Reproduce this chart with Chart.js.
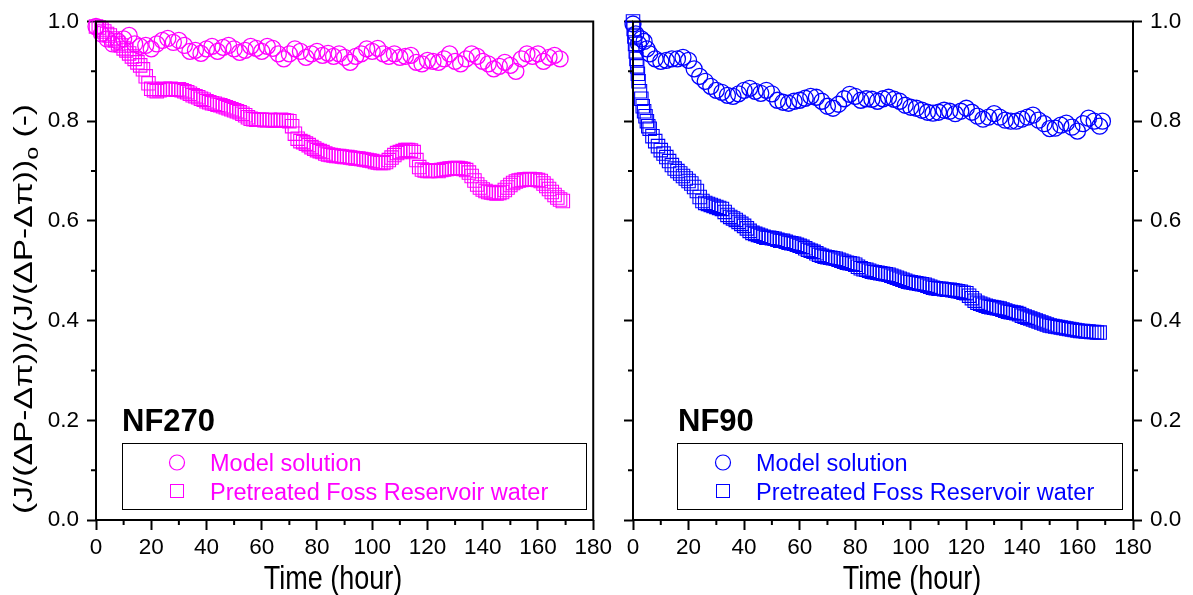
<!DOCTYPE html>
<html><head><meta charset="utf-8">
<script src="https://cdn.jsdelivr.net/npm/chart.js@4.4.1/dist/chart.umd.min.js"></script>
<style>
html,body{margin:0;padding:0;background:#fff;width:1193px;height:595px;overflow:hidden}
canvas{position:absolute;top:0}
#c1{left:0}
#c2{left:616px}
</style></head><body>
<canvas id="c1" width="616" height="595"></canvas>
<canvas id="c2" width="577" height="595"></canvas>
<script>
// ---------- tick labels ----------
const xTickValues = [0,20,40,60,80,100,120,140,160,180];
const xMinorTicks = [10,30,50,70,90,110,130,150,170];
const yTickValues = [0.0,0.2,0.4,0.6,0.8,1.0];
const yMinorTicks = [0.1,0.3,0.5,0.7,0.9];

const xTitle = 'Time (hour)';
const yTitleMain = '(J/(ΔP-Δπ))/(J/(ΔP-Δπ))';
const yTitleSub = 'o';
const yTitleTail = ' (-)';
const seriesNames = ['Model solution','Pretreated Foss Reservoir water'];
const panelNames = ['NF270','NF90'];

// ---------- NF270 : Model solution (circles) ----------
const tModelNF270 = [0,2,4,6,8,10,12,14,16,18,20,22,24,26,28,30,32,34,36,38,40,42,44,46,48,50,52,54,56,58,60,62,64,66,68,70,72,74,76,78,80,82,84,86,88,90,92,94,96,98,100,102,104,106,108,110,112,114,116,118,120,122,124,126,128,130,132,134,136,138,140,142,144,146,148,150,152,154,156,158,160,162,164,166,168];
const vModelNF270 = [0.990,0.975,0.965,0.955,0.960,0.965,0.972,0.955,0.950,0.952,
0.945,0.955,0.962,0.966,0.958,0.962,0.952,0.940,0.942,0.936,
0.945,0.950,0.940,0.948,0.952,0.945,0.938,0.942,0.950,0.946,
0.940,0.950,0.946,0.935,0.925,0.935,0.945,0.940,0.928,0.935,
0.940,0.932,0.936,0.930,0.935,0.928,0.918,0.930,0.935,0.945,
0.940,0.946,0.935,0.930,0.935,0.928,0.930,0.932,0.918,0.915,
0.922,0.920,0.918,0.925,0.935,0.920,0.915,0.925,0.935,0.930,
0.920,0.915,0.905,0.910,0.918,0.912,0.900,0.925,0.935,0.930,
0.935,0.920,0.928,0.932,0.925];

// ---------- NF270 : Pretreated Foss Reservoir water (squares) ----------
const tFossNF270 = [0,1,2,3,4,5,6,7,8,9,10,11,12,13,14,15,16,17,18,19,20,21,22,23,24,25,26,27,28,29,30,31,32,33,34,35,36,37,38,39,40,41,42,43,44,45,46,47,48,49,50,51,52,53,54,55,56,57,58,59,60,61,62,63,64,65,66,67,68,69,70,71,72,73,74,75,76,77,78,79,80,81,82,83,84,85,86,87,88,89,90,91,92,93,94,95,96,97,98,99,100,101,102,103,104,105,106,107,108,109,110,111,112,113,114,115,116,117,118,119,120,121,122,123,124,125,126,127,128,129,130,131,132,133,134,135,136,137,138,139,140,141,142,143,144,145,146,147,148,149,150,151,152,153,154,155,156,157,158,159,160,161,162,163,164,165,166,167,168,169];
const vFossNF270 = [0.990,0.988,0.984,0.980,0.975,0.972,0.966,0.962,0.956,0.952,
0.946,0.942,0.936,0.930,0.925,0.918,0.912,0.904,0.890,0.876,
0.865,0.862,0.860,0.862,0.864,0.865,0.864,0.865,0.864,0.863,
0.864,0.862,0.860,0.858,0.855,0.852,0.850,0.848,0.845,0.843,
0.840,0.838,0.836,0.835,0.833,0.832,0.830,0.828,0.826,0.824,
0.822,0.820,0.818,0.815,0.812,0.808,0.805,0.804,0.803,0.803,
0.803,0.802,0.802,0.803,0.802,0.801,0.802,0.803,0.802,0.801,
0.800,0.790,0.775,0.765,0.760,0.758,0.755,0.752,0.748,0.745,
0.742,0.740,0.738,0.735,0.733,0.732,0.731,0.730,0.730,0.729,
0.728,0.728,0.727,0.726,0.725,0.725,0.724,0.723,0.722,0.721,
0.720,0.718,0.717,0.716,0.716,0.718,0.722,0.727,0.732,0.736,
0.738,0.740,0.742,0.742,0.741,0.738,0.722,0.708,0.703,0.701,
0.700,0.700,0.701,0.701,0.700,0.702,0.703,0.704,0.705,0.705,
0.706,0.706,0.705,0.704,0.702,0.697,0.690,0.681,0.673,0.667,
0.663,0.660,0.658,0.657,0.656,0.655,0.656,0.658,0.662,0.667,
0.672,0.676,0.679,0.681,0.682,0.683,0.683,0.684,0.683,0.683,
0.682,0.680,0.675,0.670,0.664,0.658,0.652,0.647,0.643,0.640];

// ---------- NF90 : Model solution (circles) ----------
const tModelNF90 = [0,1,2,3,4,5,6,8,10,12,14,16,18,20,22,24,26,28,30,32,34,36,38,40,42,44,46,48,50,52,54,56,58,60,62,64,66,68,70,72,74,76,78,80,82,84,86,88,90,92,94,96,98,100,102,104,106,108,110,112,114,116,118,120,122,124,126,128,130,132,134,136,138,140,142,144,146,148,150,152,154,156,158,160,162,164,166,168,169];
const vModelNF90 = [0.995,0.975,0.955,0.965,0.960,0.945,0.935,
0.925,0.920,0.922,0.925,0.925,0.928,0.922,0.905,0.890,0.880,
0.870,0.862,0.858,0.852,0.850,0.855,0.862,0.866,0.860,0.856,
0.862,0.855,0.842,0.838,0.836,0.840,0.842,0.846,0.850,0.848,
0.840,0.830,0.826,0.834,0.845,0.854,0.850,0.842,0.845,0.844,
0.840,0.845,0.848,0.844,0.840,0.832,0.828,0.826,0.822,0.818,
0.816,0.818,0.822,0.820,0.815,0.820,0.826,0.818,0.810,0.804,
0.808,0.815,0.808,0.802,0.800,0.800,0.804,0.808,0.812,0.802,
0.795,0.785,0.786,0.792,0.796,0.788,0.780,0.795,0.806,0.800,
0.790,0.800];

// ---------- NF90 : Pretreated Foss Reservoir water (squares) ----------
const tFossNF90 = [0,0.25,0.5,0.75,1,1.25,1.5,1.75,2,2.5,3,3.5,4,4.5,5,5.5,6,7,8,9,10,11,12,13,14,15,16,17,18,19,20,21,22,23,24,25,26,27,28,29,30,31,32,33,34,35,36,37,38,39,40,41,42,43,44,45,46,47,48,49,50,51,52,53,54,55,56,57,58,59,60,61,62,63,64,65,66,67,68,69,70,71,72,73,74,75,76,77,78,79,80,81,82,83,84,85,86,87,88,89,90,91,92,93,94,95,96,97,98,99,100,101,102,103,104,105,106,107,108,109,110,111,112,113,114,115,116,117,118,119,120,121,122,123,124,125,126,127,128,129,130,131,132,133,134,135,136,137,138,139,140,141,142,143,144,145,146,147,148,149,150,151,152,153,154,155,156,157,158,159,160,161,162,163,164,165,166,167,168];
const vFossNF90 = [1.000,0.985,0.970,0.955,0.940,0.925,0.910,0.895,0.880,0.860,0.845,0.830,0.820,0.810,0.800,0.790,0.785,
0.770,0.760,0.750,0.742,0.735,0.728,0.720,0.712,0.705,0.700,
0.695,0.690,0.685,0.680,0.675,0.668,0.660,0.648,0.640,0.636,
0.634,0.632,0.630,0.628,0.626,0.624,0.618,0.612,0.608,0.605,
0.602,0.598,0.594,0.590,0.585,0.580,0.576,0.574,0.572,0.570,
0.568,0.566,0.566,0.565,0.564,0.562,0.560,0.560,0.558,0.556,
0.555,0.554,0.552,0.550,0.548,0.545,0.542,0.540,0.538,0.535,
0.532,0.530,0.528,0.527,0.526,0.525,0.524,0.522,0.520,0.518,
0.516,0.515,0.514,0.512,0.508,0.505,0.503,0.502,0.500,0.498,
0.497,0.496,0.495,0.494,0.493,0.492,0.490,0.488,0.486,0.484,
0.482,0.480,0.478,0.477,0.476,0.475,0.474,0.473,0.472,0.470,
0.468,0.466,0.465,0.464,0.464,0.463,0.462,0.462,0.461,0.460,
0.459,0.458,0.456,0.455,0.450,0.445,0.440,0.436,0.434,0.432,
0.430,0.428,0.427,0.426,0.425,0.424,0.422,0.420,0.418,0.417,
0.416,0.415,0.413,0.410,0.408,0.406,0.404,0.402,0.400,0.398,
0.396,0.394,0.392,0.390,0.389,0.388,0.387,0.386,0.385,0.384,
0.383,0.382,0.381,0.380,0.379,0.379,0.378,0.378,0.377,0.377,
0.376,0.376];

// ---------- styling ----------
const MAGENTA = '#FF00FF', BLUE = '#0000FF';
const FONT = "'Liberation Sans', Arial, Helvetica, sans-serif";
Chart.defaults.font.family = FONT;
Chart.defaults.color = '#000';

function pts(ts, vs){ const n = Math.min(ts.length, vs.length); const out=[]; for(let i=0;i<n;i++) out.push({x:ts[i], y:vs[i]}); return out; }

function circleSet(label, ts, vs, col){
  return {label, data: pts(ts,vs), pointStyle:'circle', pointRadius:8, pointHoverRadius:8,
    pointBorderWidth:1.3, pointBorderColor:col, pointBackgroundColor:'rgba(255,255,255,0)',
    borderColor:col, backgroundColor:'rgba(255,255,255,0)', showLine:false, clip:false, order:1};
}
function squareSet(label, ts, vs, col){
  return {label, data: pts(ts,vs), pointStyle:'rect', pointRadius:9.5, pointHoverRadius:9.5,
    pointBorderWidth:1.1, pointBorderColor:col, pointBackgroundColor:'rgba(255,255,255,0)',
    borderColor:col, backgroundColor:'rgba(255,255,255,0)', showLine:false, clip:false, order:0};
}

const framePlugin = {id:'frame', afterDatasetsDraw(chart){
  const {ctx, chartArea:a} = chart; ctx.save(); ctx.strokeStyle='#000'; ctx.lineWidth=2;
  ctx.strokeRect(a.left, a.top, a.right-a.left, a.bottom-a.top); ctx.restore(); }};

const minorPlugin = {id:'minor', afterDraw(chart){
  const ctx = chart.ctx; ctx.save(); ctx.strokeStyle='#000'; ctx.lineWidth=2; ctx.beginPath();
  Object.values(chart.scales).forEach(s=>{
    const L = 5;
    if (s.axis === 'x') {
      xMinorTicks.forEach(v=>{ const p=s.getPixelForValue(v); ctx.moveTo(p, s.top); ctx.lineTo(p, s.top+L); });
    } else {
      yMinorTicks.forEach(v=>{ const p=s.getPixelForValue(v);
        if (s.position==='left'){ ctx.moveTo(s.right, p); ctx.lineTo(s.right-L, p); }
        else { ctx.moveTo(s.left, p); ctx.lineTo(s.left+L, p); } });
    }
  });
  ctx.stroke(); ctx.restore(); }};

function overlayPlugin(cfg){ return {id:'overlay', afterDraw(chart){
  const ctx = chart.ctx; ctx.save();
  // panel name
  ctx.fillStyle='#000'; ctx.font='bold 31px '+FONT; ctx.textAlign='left'; ctx.textBaseline='alphabetic';
  ctx.fillText(cfg.name, cfg.nameX, 431);
  // legend box
  ctx.strokeStyle='#000'; ctx.lineWidth=1;
  ctx.strokeRect(cfg.boxL+0.5, 443.5, cfg.boxR-cfg.boxL, 66);
  ctx.strokeStyle=cfg.color; ctx.fillStyle=cfg.color; ctx.lineWidth=1.2;
  ctx.beginPath(); ctx.arc(cfg.markX, 462.5, 7.5, 0, Math.PI*2); ctx.stroke();
  ctx.lineWidth=1; ctx.strokeRect(cfg.markX-6.5, 484.5, 13, 13);
  ctx.font='23.5px '+FONT;
  ctx.fillText(seriesNames[0], cfg.textX, 471);
  ctx.fillText(seriesNames[1], cfg.textX, 499.5);
  // x title (slightly tall lettering as in the source)
  ctx.fillStyle='#000'; ctx.font='27px '+FONT; ctx.textAlign='center';
  ctx.save(); ctx.translate(cfg.xTitleX, 589); ctx.scale(1,1.25); ctx.fillText(xTitle,0,0); ctx.restore();
  // y title
  if (cfg.yTitle){
    ctx.textAlign='left';
    ctx.font='26px '+FONT; const w1=ctx.measureText(yTitleMain).width, w3=ctx.measureText(yTitleTail).width;
    ctx.font='18px '+FONT; const w2=ctx.measureText(yTitleSub).width;
    const k = 410/(w1+w2+w3);
    ctx.save(); ctx.translate(32, 514); ctx.rotate(-Math.PI/2); ctx.scale(k,1);
    ctx.font='26px '+FONT; ctx.fillText(yTitleMain,0,0);
    ctx.font='18px '+FONT; ctx.fillText(yTitleSub,w1,6);
    ctx.font='26px '+FONT; ctx.fillText(yTitleTail,w1+w2,0);
    ctx.restore();
  }
  ctx.restore(); }}; }

const tickGrid = len => ({display:true, drawOnChartArea:false, drawTicks:true, tickLength:len, tickWidth:2, tickColor:'#000'});
const xScale = {type:'linear', position:'bottom', min:0, max:180,
  afterBuildTicks: s => { s.ticks = xTickValues.map(v=>({value:v})); },
  afterFit: s => { s.height = 75; },
  ticks:{font:{size:22.5}, color:'#000', padding:4, maxRotation:0, autoSkip:false, callback:v=>String(v)},
  grid: tickGrid(10), border:{display:false}};
function yScale(pos, width, labels){
  return {type:'linear', position:pos, min:0, max:1,
    afterBuildTicks: s => { s.ticks = yTickValues.map(v=>({value:v})); },
    afterFit: s => { s.width = width; },
    ticks:{display:labels, font:{size:22.5}, color:'#000', padding:8, autoSkip:false, callback:v=>Number(v).toFixed(1)},
    grid: tickGrid(9), border:{display:false}};
}
const baseOpts = {responsive:false, devicePixelRatio:1, animation:false, events:[],
  plugins:{legend:{display:false}, tooltip:{enabled:false}}};

new Chart(document.getElementById('c1'), {
  type:'scatter',
  data:{datasets:[ circleSet(seriesNames[0], tModelNF270, vModelNF270, MAGENTA),
                   squareSet(seriesNames[1], tFossNF270, vFossNF270, MAGENTA) ]},
  options:Object.assign({}, baseOpts, {
    layout:{padding:{top:20, right:20, left:0, bottom:0}},
    scales:{ x: xScale, y: yScale('left', 96, true) } }),
  plugins:[framePlugin, minorPlugin, overlayPlugin({name:panelNames[0], nameX:122, boxL:122, boxR:586, markX:177, textX:210, color:MAGENTA, xTitleX:333, yTitle:true})]
});

new Chart(document.getElementById('c2'), {
  type:'scatter',
  data:{datasets:[ circleSet(seriesNames[0], tModelNF90, vModelNF90, BLUE),
                   Object.assign(squareSet(seriesNames[1], tFossNF90, vFossNF90, BLUE), {yAxisID:'y'}) ]},
  options:Object.assign({}, baseOpts, {
    layout:{padding:{top:20, right:0, left:0, bottom:0}},
    scales:{ x: xScale, yL: yScale('left', 17, false), y: yScale('right', 60, true) } }),
  plugins:[framePlugin, minorPlugin, overlayPlugin({name:panelNames[1], nameX:62, boxL:61, boxR:506, markX:107, textX:140, color:BLUE, xTitleX:296, yTitle:false})]
});
</script>
</body></html>
